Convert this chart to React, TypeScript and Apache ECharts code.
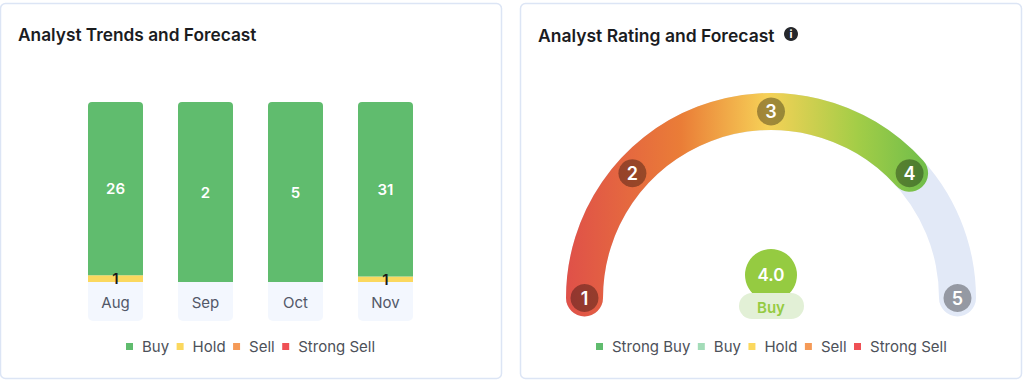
import React, { useEffect, useRef } from "react";
import * as echarts from "echarts";

const months = ["Aug", "Sep", "Oct", "Nov"];
const buy = [26, 2, 5, 31];
const hold = [1, 0, 0, 1];
const sell = [0, 0, 0, 0];
const strongSell = [0, 0, 0, 0];
const strongBuy = [0, 0, 0, 0];

const ratingLabels = ["1", "2", "3", "4", "5"];
const ratingAngles = [0, 42, 90, 138, 180];
const currentIndex = 3;
const currentScore = "4.0";
const currentText = "Buy";

const FONT = "Inter";
const GREEN = "#60bc6e";
const YELLOW = "#fbd85e";
const ORANGE = "#f59a57";
const RED = "#ef5055";
const TEXT = "#4d5159";

const totals = months.map((_, i) => buy[i] + hold[i] + sell[i] + strongSell[i]);
const share = (arr: number[]) => arr.map((v, i) => v / totals[i]);

const legendBase = {
  orient: "horizontal" as const,
  icon: "rect",
  itemWidth: 7,
  itemHeight: 7,
  top: 334,
  selectedMode: false,
  textStyle: { fontFamily: FONT, fontSize: 15, color: TEXT, padding: [0, 0, 0, 4] },
};

function barSeries(name: string, raw: number[], color: string, labelColor: string, radius?: number[]) {
  return {
    name,
    type: "bar",
    stack: "total",
    xAxisIndex: 0,
    yAxisIndex: 0,
    barWidth: 55,
    data: share(raw),
    itemStyle: { color, borderRadius: radius ?? 0 },
    label: {
      show: true,
      position: "inside",
      color: labelColor,
      fontFamily: FONT,
      fontSize: 15,
      fontWeight: 600,
      formatter: (p: any) => (raw[p.dataIndex] ? String(raw[p.dataIndex]) : ""),
    },
  };
}

export default function App() {
  const ref = useRef<HTMLDivElement>(null);
  useEffect(() => {
    document.body.style.margin = "0";
    const chart = echarts.init(ref.current!, undefined, { renderer: "svg" });
    const gradient = new echarts.graphic.LinearGradient(
      565, 0, 940, 0,
      [
        { offset: 0, color: "#df5049" },
        { offset: 0.31, color: "#ea7d37" },
        { offset: 0.54, color: "#f6d157" },
        { offset: 0.78, color: "#a3cd47" },
        { offset: 0.95, color: "#74bf4a" },
        { offset: 1, color: "#6cb84a" },
      ],
      true
    );
    chart.setOption({
      animation: false,
      backgroundColor: "#ffffff",
      title: [
        { text: "Analyst Trends and Forecast", left: 13, top: 21, textStyle: { fontFamily: FONT, fontSize: 17.3, fontWeight: 600, color: "#1b1c1f" } },
        { text: "Analyst Rating and Forecast", left: 533, top: 21, textStyle: { fontFamily: FONT, fontSize: 17.5, fontWeight: 600, color: "#1b1c1f" } },
      ],
      grid: { left: 70.5, top: 102, width: 360, height: 180 },
      xAxis: {
        type: "category",
        data: months,
        axisLine: { show: false },
        axisTick: { show: false },
        axisLabel: {
          margin: 0,
          color: "#525868",
          fontFamily: FONT,
          fontSize: 15,
          width: 55,
          height: 39,
          lineHeight: 40,
          align: "center",
          verticalAlign: "top",
          backgroundColor: "#f3f7fe",
          borderRadius: [0, 0, 5, 5],
        },
      },
      yAxis: { type: "value", min: 0, max: 1, show: false },
      polar: { center: [771, 298], radius: [0, 186.5] },
      angleAxis: { min: 0, max: 360, startAngle: 180, clockwise: true, show: false },
      radiusAxis: { min: 0, max: 1, show: false },
      legend: [
        { ...legendBase, left: 121, itemGap: 7.5, data: [{ name: "Buy" }, { name: "Hold" }, { name: "Sell" }, { name: "Strong Sell" }] },
        {
          ...legendBase,
          left: 591,
          itemGap: 7.5,
          data: [
            { name: "Strong Buy", itemStyle: { color: GREEN } },
            { name: "Buy", itemStyle: { color: "#a3dcb8" } },
            { name: "Hold" },
            { name: "Sell" },
            { name: "Strong Sell" },
          ],
        },
      ],
      series: [
        barSeries("Hold", hold, YELLOW, "#1a1a1a"),
        barSeries("Buy", buy, GREEN, "#ffffff", [4, 4, 0, 0]),
        barSeries("Sell", sell, ORANGE, "#ffffff"),
        barSeries("Strong Sell", strongSell, RED, "#ffffff"),
        barSeries("Strong Buy", strongBuy, GREEN, "#ffffff"),
        {
          type: "gauge",
          center: [771, 298],
          radius: 205,
          startAngle: 180,
          endAngle: 0,
          min: 0,
          max: 180,
          z: 2,
          pointer: { show: false },
          anchor: { show: false },
          axisTick: { show: false },
          splitLine: { show: false },
          axisLabel: { show: false },
          title: { show: false },
          detail: { show: false },
          axisLine: { roundCap: true, lineStyle: { width: 37, color: [[1, "#e2e9f7"]] } },
          progress: { show: true, roundCap: true, width: 37, itemStyle: { color: gradient } },
          data: [{ value: ratingAngles[currentIndex] }],
        },
        {
          type: "scatter",
          coordinateSystem: "polar",
          symbol: "circle",
          symbolSize: 28,
          z: 5,
          itemStyle: { color: "rgba(0,0,0,0.34)", opacity: 1 },
          label: {
            show: true,
            position: "inside",
            color: "#ffffff",
            fontFamily: FONT,
            fontSize: 18,
            fontWeight: 600,
            formatter: (p: any) => ratingLabels[p.dataIndex],
          },
          data: ratingAngles.map((a) => [1, a]),
        },
      ],
      graphic: [
        { type: "rect", z: -10, shape: { x: 0.5, y: 3.5, width: 501, height: 375, r: 5 }, style: { fill: "#fff", stroke: "#dce5f5", lineWidth: 1.5 } },
        { type: "rect", z: -10, shape: { x: 520.5, y: 3.5, width: 501, height: 375, r: 5 }, style: { fill: "#fff", stroke: "#dce5f5", lineWidth: 1.5 } },
        { type: "circle", z: 10, shape: { cx: 791, cy: 34, r: 7 }, style: { fill: "#26282c" } },
        { type: "text", z: 11, x: 791, y: 34, style: { text: "i", fill: "#fff", font: `700 11px ${FONT}`, align: "center", verticalAlign: "middle" } },
        { type: "circle", z: 10, shape: { cx: 771, cy: 275, r: 26 }, style: { fill: "#95cb41" } },
        { type: "rect", z: 11, shape: { x: 739, y: 293, width: 65, height: 26, r: 13 }, style: { fill: "#e2f0d6" } },
        { type: "text", z: 12, x: 771, y: 275, style: { text: currentScore, fill: "#fff", font: `600 17px ${FONT}`, align: "center", verticalAlign: "middle" } },
        { type: "text", z: 12, x: 771, y: 307, style: { text: currentText, fill: "#95cb41", font: `600 15px ${FONT}`, align: "center", verticalAlign: "middle" } },
      ],
    });
    return () => chart.dispose();
  }, []);
  return <div ref={ref} style={{ width: 1024, height: 380 }} />;
}
